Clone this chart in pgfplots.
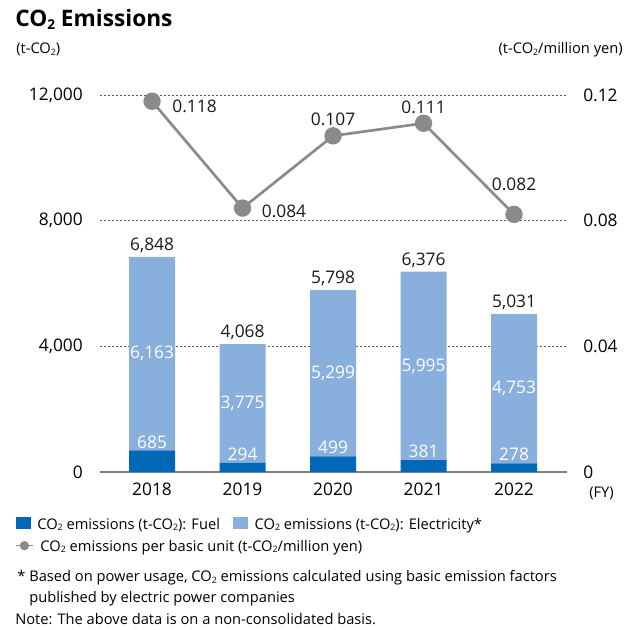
\documentclass[border=0pt]{standalone}
\usepackage{fontspec}
\setmainfont{Open Sans}
\usepackage{graphicx}
\usepackage{pgfplots}
\pgfplotsset{compat=1.18}
\usepackage{pgfplotstable}

\definecolor{fuelblue}{HTML}{0068B7}
\definecolor{elecblue}{HTML}{89AFDD}
\definecolor{linegray}{HTML}{8A8A8A}
\definecolor{gridgray}{HTML}{5A5A5A}
\definecolor{axisgray}{HTML}{808080}

\newcommand{\two}{\raisebox{-0.2ex}{\scalebox{0.6}{2}}}
\newcommand{\labelfont}{\fontsize{13}{15}\selectfont}
\newcommand{\notefont}{\fontsize{11}{14}\selectfont}

% CO2 emissions by fiscal year (t-CO2)
\pgfplotstableread{
x fuel elec total
0 685 6163 6848
1 294 3775 4068
2 499 5299 5798
3 381 5995 6376
4 278 4753 5031
}\emissions

% emissions per basic unit (t-CO2/million yen); dx, dy place each label (pt)
\pgfplotstableread{
x unit dx dy
0 0.118 31.9 -3.5
1 0.084 31.1 -2.25
2 0.107 0 12
3 0.111 0 12
4 0.082 0 22.5
}\intensity

\pgfplotsset{
  panel/.style={
    scale only axis,
    width=350.25pt, height=282.75pt,
    at={(75pt,118.5pt)}, anchor=south west,
    xmin=-0.575, xmax=4.585,
    major tick length=0pt,
    scaled ticks=false,
    tick label style={font=\labelfont},
    /pgf/number format/assume math mode=true,
  },
}

\begin{document}
\begin{tikzpicture}[x=0.75pt,y=0.75pt]
\path[use as bounding box] (0,0) rectangle (627,630);

% stacked bars, left axis
\begin{axis}[panel,
  ymin=0, ymax=12000,
  ybar stacked, bar width=34.5pt,
  axis x line*=bottom, axis y line*=left,
  y axis line style={draw=none},
  x axis line style={-, draw=axisgray, line width=0.9pt},
  xtick={0,1,2,3,4}, xticklabels={2018,2019,2020,2021,2022},
  xticklabel style={anchor=north, inner sep=0pt, yshift=-8.25pt},
  ytick={0,4000,8000,12000},
  yticklabel style={anchor=east, inner sep=0pt, xshift=-12.75pt,
    /pgf/number format/1000 sep={,}},
  ymajorgrids,
  grid style={gridgray, line width=0.7pt, dash pattern=on 1.5pt off 1.5pt},
  legend columns=-1,
  legend style={draw=none, fill=none, inner sep=0pt, outer sep=0pt,
    at={(-0.1799,-0.115)}, anchor=north west,
    font=\notefont,
    cells={anchor=base west},
    /tikz/every odd column/.append style={column sep=3pt},
    /tikz/every even column/.append style={column sep=8pt}},
  legend image code/.code={\fill[#1] (0pt,0pt) rectangle (11pt,9pt);},
]
\addplot[fill=fuelblue, draw=none] table[x=x, y=fuel] {\emissions};
\addlegendentry{CO\two{} emissions (t-CO\two): Fuel}
\addplot[fill=elecblue, draw=none] table[x=x, y=elec] {\emissions};
\addlegendentry{CO\two{} emissions (t-CO\two): Electricity*}
\end{axis}

% value labels for the bars
\begin{axis}[panel, hide axis, clip=false,
  ymin=0, ymax=12000,
  nodes near coords={\pgfmathprintnumber[1000 sep={,}, assume math mode=true]{\pgfplotspointmeta}},
  every node near coord/.append style={font=\labelfont, inner sep=0pt},
]
\addplot[draw=none, mark=none, point meta=explicit,
  nodes near coords style={text=white, anchor=south, yshift=1.5pt}]
  table[x=x, y=fuel, meta=fuel] {\emissions};
\addplot[draw=none, mark=none, point meta=explicit,
  nodes near coords style={text=white, anchor=center}]
  table[x=x, y expr=\thisrow{fuel}+\thisrow{elec}/2, meta=elec] {\emissions};
\addplot[draw=none, mark=none, point meta=explicit,
  nodes near coords style={text=black!90, anchor=south, yshift=3pt}]
  table[x=x, y=total, meta=total] {\emissions};
\end{axis}

% emissions per basic unit, right axis
\begin{axis}[panel, clip=false,
  ymin=0, ymax=0.12,
  hide x axis,
  axis y line*=right,
  y axis line style={draw=none},
  ytick={0,0.04,0.08,0.12},
  yticklabel style={anchor=west, inner sep=0pt, xshift=12pt,
    /pgf/number format/fixed, /pgf/number format/precision=2},
  legend style={draw=none, fill=none, inner sep=0pt, outer sep=0pt,
    at={(-0.182,-0.173)}, anchor=north west,
    font=\notefont,
    cells={anchor=base west},
    /tikz/every odd column/.append style={column sep=3pt}},
  legend image code/.code={
    \draw[linegray, line width=1.1pt] (0pt,4pt) -- (13pt,4pt);
    \fill[linegray] (6.5pt,4pt) circle (2.4pt);},
]
\addplot[linegray, line width=2pt, mark=*, mark size=5.5pt,
  mark options={fill=linegray, draw=none},
  point meta=explicit,
  visualization depends on={\thisrow{dx} \as \dx},
  visualization depends on={\thisrow{dy} \as \dy},
  nodes near coords={\pgfmathprintnumber[fixed, precision=3, assume math mode=true]{\pgfplotspointmeta}},
  nodes near coords style={text=black!90, font=\labelfont, inner sep=0pt,
    anchor=center, xshift=\dx pt, yshift=\dy pt}]
  table[x=x, y=unit, meta=unit] {\intensity};
\addlegendentry{CO\two{} emissions per basic unit (t-CO\two/million yen)}
\end{axis}

% titles, units and notes
\node[anchor=base west, inner sep=0pt, font=\fontsize{17}{20}\selectfont\bfseries] at (15,603) {CO\two{} Emissions};
\node[anchor=base west, inner sep=0pt, font=\notefont] at (16,576) {(t-CO\two)};
\node[anchor=base east, inner sep=0pt, font=\notefont] at (623,576) {(t-CO\two/million yen)};
\node[anchor=base west, inner sep=0pt, font=\notefont] at (589,132) {(FY)};
\node[anchor=base west, inner sep=0pt, font=\notefont] at (17,48) {*};
\node[anchor=base west, inner sep=0pt, font=\notefont] at (29,48) {Based on power usage, CO\two{} emissions calculated using basic emission factors};
\node[anchor=base west, inner sep=0pt, font=\notefont] at (29,27) {published by electric power companies};
\node[anchor=base west, inner sep=0pt, font=\notefont] at (15,6) {Note: The above data is on a non-consolidated basis.};
\end{tikzpicture}
\end{document}
